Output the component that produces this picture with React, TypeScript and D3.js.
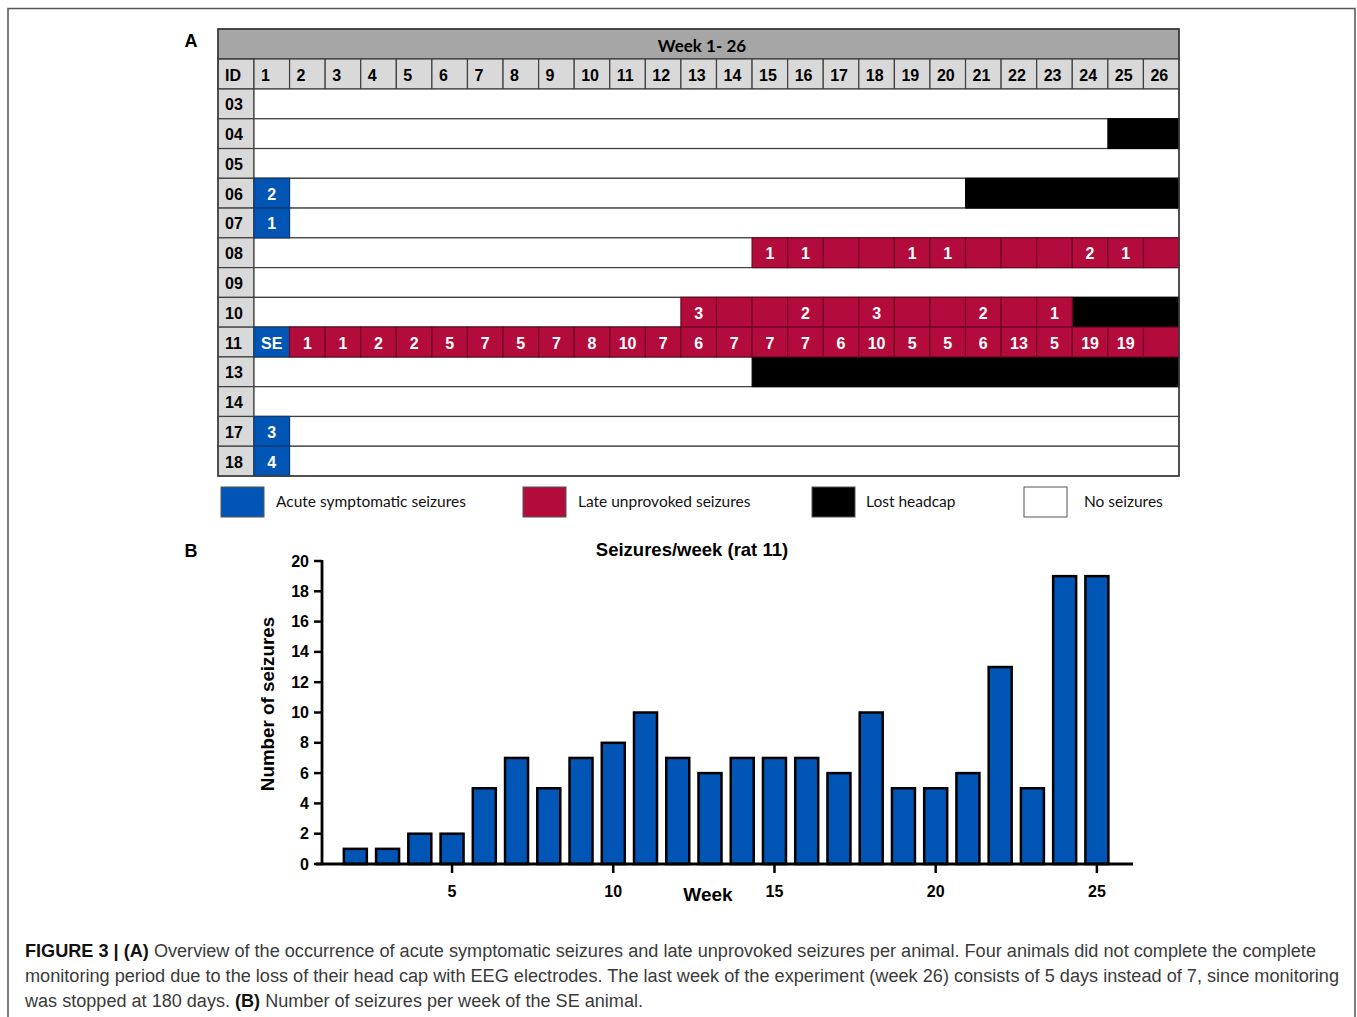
import React from "react";
import * as d3 from "d3";

// ---------- DATA ----------
const weeks = [1,2,3,4,5,6,7,8,9,10,11,12,13,14,15,16,17,18,19,20,21,22,23,24,25,26];
const animalIds = ["03","04","05","06","07","08","09","10","11","13","14","17","18"];
// acute symptomatic seizures in week 1
const acuteIds = ["06","07","11","17","18"];
const acuteLabels = ["2","1","SE","3","4"];
// lost headcap: first week lost (through week 26)
const lostIds = ["04","06","10","13"];
const lostFromWeek = [25,21,24,15];
// late unprovoked seizures
const rat08Start = 15;
const rat08Late = ["1","1","","","1","1","","","","2","1",""];
const rat10Start = 13;
const rat10Late = ["3","","","2","","3","","","2","","1"];
const rat11Start = 2;
const rat11Weekly = [1,1,2,2,5,7,5,7,8,10,7,6,7,7,7,6,10,5,5,6,13,5,19,19];
const rat11Week26 = "";
const barWeeks = [2,3,4,5,6,7,8,9,10,11,12,13,14,15,16,17,18,19,20,21,22,23,24,25];
const yTicks = [0,2,4,6,8,10,12,14,16,18,20];
const xTicks = [5,10,15,20,25];
const legendItems = ["Acute symptomatic seizures","Late unprovoked seizures","Lost headcap","No seizures"];

const BLUE = "#0155b5";
const RED = "#b30b3c";
const RED_DARK = "#6e0824";
const BORDER = "#3f3f3f";

export default function App() {
  // table scales
  const tx = d3.scaleBand<number>().domain(weeks).range([254, 1179]).paddingInner(0);
  const ty = d3.scaleBand<string>().domain(animalIds).range([89, 476]).paddingInner(0);
  const bw = tx.bandwidth();
  const bh = ty.bandwidth();

  type Cell = { id: string; week: number; label: string; kind: "acute" | "late" };
  const cells: Cell[] = [];
  acuteIds.forEach((id, i) => cells.push({ id, week: 1, label: acuteLabels[i], kind: "acute" }));
  rat08Late.forEach((l, i) => cells.push({ id: "08", week: rat08Start + i, label: l, kind: "late" }));
  rat10Late.forEach((l, i) => cells.push({ id: "10", week: rat10Start + i, label: l, kind: "late" }));
  rat11Weekly.forEach((v, i) => cells.push({ id: "11", week: rat11Start + i, label: String(v), kind: "late" }));
  cells.push({ id: "11", week: 26, label: rat11Week26, kind: "late" });

  // bar chart scales
  const bx = d3.scaleLinear().domain([0.78, 26.12]).range([316, 1133]);
  const by = d3.scaleLinear().domain([0, 20]).range([864, 561]);
  const barW = 23;

  const tableFont = "'Liberation Sans', Arial, sans-serif";
  const calFont = "Lato, 'Open Sans', sans-serif";

  return (
    <svg width={1357} height={1017} style={{ position: "absolute", left: 0, top: 0, background: "#fff" }}
      fontFamily={tableFont}>
      {/* frame */}
      <rect x={8} y={8.5} width={1347} height={1020} fill="none" stroke="#555" strokeWidth={1.5} />

      {/* panel letters */}
      <text x={191} y={47} fontSize={18} fontWeight="bold" textAnchor="middle">A</text>
      <text x={191} y={557} fontSize={18} fontWeight="bold" textAnchor="middle">B</text>

      {/* ---------- TABLE ---------- */}
      <rect x={218} y={29} width={961} height={30} fill="#a6a6a6" stroke={BORDER} strokeWidth={1.5} />
      <text x={702} y={45} fontFamily={calFont} fontWeight="bold" fontSize={17} textAnchor="middle" dominantBaseline="central">Week 1- 26</text>
      {/* header row */}
      <rect x={218} y={59} width={36} height={30} fill="#d9d9d9" stroke={BORDER} strokeWidth={1.5} />
      <text x={225} y={75} fontSize={16} fontWeight="bold" dominantBaseline="central">ID</text>
      {weeks.map((w) => (
        <g key={"h" + w}>
          <rect x={tx(w)} y={59} width={bw} height={30} fill="#d9d9d9" stroke={BORDER} strokeWidth={1.2} />
          <text x={(tx(w) as number) + 7} y={75} fontSize={16} fontWeight="bold" dominantBaseline="central">{w}</text>
        </g>
      ))}
      {/* rows */}
      {animalIds.map((id) => (
        <g key={"r" + id}>
          <rect x={218} y={ty(id)} width={36} height={bh} fill="#d9d9d9" stroke={BORDER} strokeWidth={1.2} />
          <text x={225} y={(ty(id) as number) + bh / 2 + 1} fontSize={16} fontWeight="bold" dominantBaseline="central">{id}</text>
          <rect x={254} y={ty(id)} width={925} height={bh} fill="#fff" stroke={BORDER} strokeWidth={1.2} />
        </g>
      ))}
      {/* lost headcap */}
      {lostIds.map((id, i) => (
        <rect key={"l" + id} x={tx(lostFromWeek[i])} y={ty(id)} width={1179 - (tx(lostFromWeek[i]) as number)} height={bh}
          fill="#000" stroke="#000" strokeWidth={1} />
      ))}
      {/* seizure cells */}
      {cells.map((c, i) => (
        <g key={"c" + i}>
          <rect x={tx(c.week)} y={ty(c.id)} width={bw} height={bh}
            fill={c.kind === "acute" ? BLUE : RED}
            stroke={c.kind === "acute" ? "#123a6e" : RED_DARK} strokeWidth={1.2} />
          {c.label && (
            <text x={(tx(c.week) as number) + bw / 2} y={(ty(c.id) as number) + bh / 2 + 1} fill="#fff" fontSize={16}
              fontWeight="bold" textAnchor="middle" dominantBaseline="central">{c.label}</text>
          )}
        </g>
      ))}
      <rect x={218} y={29} width={961} height={447} fill="none" stroke={BORDER} strokeWidth={1.5} />

      {/* legend */}
      {legendItems.map((t, i) => {
        const bx0 = [221, 523, 812, 1024][i];
        const tx0 = [276, 578, 866, 1084][i];
        const fill = [BLUE, RED, "#000", "#fff"][i];
        return (
          <g key={"lg" + i}>
            <rect x={bx0} y={487} width={43} height={30} fill={fill} stroke="#555" strokeWidth={1} />
            <text x={tx0} y={501} fontFamily={calFont} fontSize={15.5} dominantBaseline="central" fill="#111">{t}</text>
          </g>
        );
      })}

      {/* ---------- BAR CHART ---------- */}
      <text x={692} y={549} fontSize={18.5} fontWeight="bold" textAnchor="middle" dominantBaseline="central">Seizures/week (rat 11)</text>
      {barWeeks.map((w, i) => (
        <rect key={"b" + w} x={bx(w) - barW / 2} y={by(rat11Weekly[i])} width={barW} height={by(0) - by(rat11Weekly[i])}
          fill={BLUE} stroke="#000" strokeWidth={2.5} />
      ))}
      {/* y axis */}
      <line x1={322} x2={322} y1={by(20) - 1} y2={by(0)} stroke="#000" strokeWidth={2.8} />
      {yTicks.map((t) => (
        <g key={"yt" + t}>
          <line x1={314} x2={322} y1={by(t)} y2={by(t)} stroke="#000" strokeWidth={2.5} />
          <text x={309} y={by(t)} fontSize={16} fontWeight="bold" textAnchor="end" dominantBaseline="central">{t}</text>
        </g>
      ))}
      {/* x axis */}
      <line x1={bx.range()[0]} x2={bx.range()[1]} y1={by(0)} y2={by(0)} stroke="#000" strokeWidth={2.8} />
      {xTicks.map((t) => (
        <g key={"xt" + t}>
          <line x1={bx(t)} x2={bx(t)} y1={by(0)} y2={by(0) + 9} stroke="#000" strokeWidth={2.5} />
          <text x={bx(t)} y={891} fontSize={16} fontWeight="bold" textAnchor="middle" dominantBaseline="central">{t}</text>
        </g>
      ))}
      <text x={708} y={894} fontSize={19} fontWeight="bold" textAnchor="middle" dominantBaseline="central">Week</text>
      <text transform="translate(267,704) rotate(-90)" fontSize={18.8} fontWeight="bold" textAnchor="middle" dominantBaseline="central">Number of seizures</text>

      {/* caption */}
      <g fontFamily="'Liberation Sans Narrow', 'Liberation Sans', Arial, sans-serif" fontSize={18} fill="#3a3a3a">
        <text x={25} y={957} textLength={1291} lengthAdjust="spacingAndGlyphs">
          <tspan fontWeight="bold" fill="#111">FIGURE 3 | (A)</tspan> Overview of the occurrence of acute symptomatic seizures and late unprovoked seizures per animal. Four animals did not complete the complete
        </text>
        <text x={25} y={982} textLength={1314} lengthAdjust="spacingAndGlyphs">
          monitoring period due to the loss of their head cap with EEG electrodes. The last week of the experiment (week 26) consists of 5 days instead of 7, since monitoring
        </text>
        <text x={25} y={1007} textLength={618} lengthAdjust="spacingAndGlyphs">
          was stopped at 180 days. <tspan fontWeight="bold" fill="#111">(B)</tspan> Number of seizures per week of the SE animal.
        </text>
      </g>
    </svg>
  );
}
